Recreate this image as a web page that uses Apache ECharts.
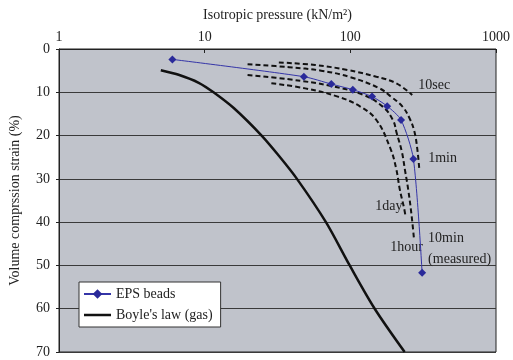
<!DOCTYPE html>
<html>
<head>
<meta charset="utf-8">
<script src="https://cdn.jsdelivr.net/npm/echarts@6/dist/echarts.min.js"></script>
<style>
  html, body { margin: 0; padding: 0; background: #fff; }
  #chart { width: 513px; height: 360px; }
</style>
</head>
<body>
<div id="chart"></div>
<script>
// Axis ticks
const pressureTicks = [1, 10, 100, 1000];
const strainTicks = [0, 10, 20, 30, 40, 50, 60, 70];

// Measured curve for EPS beads (10 min loading): [pressure kN/m2, strain %]
const epsBeads = [[6, 2.4], [48, 6.4], [74, 8.1], [104, 9.4], [141, 11], [179, 13.2], [223, 16.4], [271, 25.4], [311, 51.7]];

// Boyle's law for a gas
const boyleLaw = [[5, 4.9], [6.7, 6.0], [9.1, 7.8], [11.5, 10], [15.9, 13.7], [24.6, 20], [32, 24.5], [43, 30], [68, 40], [99, 50], [147, 60], [236, 70]];

// Curves for other loading durations
const curve10sec = [[32.3, 3.1], [57.3, 3.7], [95.5, 4.85], [151, 6.4], [206, 7.9], [266, 10.6]];
const curve1min = [[19.7, 3.5], [38, 4.2], [63, 5.0], [100, 6.5], [159, 9.1], [190, 11], [228, 13.3], [255, 16], [275, 19], [288, 23], [297, 27.5]];
const curve1hour = [[19.7, 6.0], [38, 7.0], [74, 8.55], [123, 10.6], [168, 13.4], [196, 16.4], [208, 19.4], [226, 23.8], [237, 27.9], [250, 32.6], [263, 38.3], [273, 43.6]];
const curve1day = [[28.7, 7.9], [49, 9.1], [82, 11], [117, 13.3], [151, 16.4], [188, 22.9], [206, 27.5], [219, 32.6], [233, 36.5], [239, 38.5]];

const serif = "'Liberation Serif', 'Times New Roman', serif";
const textColor = '#222';
const fontSize = 14;

// Plain line swatch for the legend (thin bar inside a 27x12 box)
const lineSwatch = 'path://M0,0 L27,0 L27,0.01 L0,0.01 Z M0,4.75 L27,4.75 L27,7.25 L0,7.25 Z M0,12 L27,12 L27,12.01 L0,12.01 Z';

function dashed(name, data, label) {
  return {
    name: name,
    type: 'line',
    data: data,
    smooth: 0.4,
    showSymbol: false,
    symbol: 'none',
    lineStyle: { color: '#111', width: 2, type: [5, 3] },
    endLabel: Object.assign({
      show: true,
      formatter: name,
      fontFamily: serif,
      fontSize: fontSize,
      color: textColor
    }, label),
    z: 3
  };
}

const chart = echarts.init(document.getElementById('chart'), null, { renderer: 'canvas' });
chart.setOption({
  animation: false,
  backgroundColor: '#fff',
  textStyle: { fontFamily: serif },
  grid: {
    left: 53, right: 11, top: 49, bottom: 8,
    show: true,
    backgroundColor: '#c0c3cb',
    borderColor: '#222',
    borderWidth: 1
  },
  legend: {
    data: [
      { name: 'EPS beads' },
      { name: "Boyle's law (gas)", icon: lineSwatch }
    ],
    orient: 'vertical',
    left: 79, top: 282,
    backgroundColor: '#fff',
    borderColor: '#333',
    borderWidth: 1,
    borderRadius: 0,
    padding: [5, 8, 5, 4],
    itemWidth: 27,
    itemHeight: 12,
    itemGap: 7,
    textStyle: { fontFamily: serif, fontSize: fontSize, color: textColor }
  },
  xAxis: {
    type: 'log',
    logBase: 10,
    min: pressureTicks[0],
    max: pressureTicks[pressureTicks.length - 1],
    position: 'top',
    name: 'Isotropic pressure (kN/m²)',
    nameLocation: 'middle',
    nameGap: 27,
    nameTextStyle: { fontFamily: serif, fontSize: fontSize, color: textColor },
    axisLine: { show: true, lineStyle: { color: '#222' } },
    axisTick: { show: true, inside: true, length: 4, lineStyle: { color: '#222' } },
    axisLabel: {
      fontFamily: serif, fontSize: fontSize, color: textColor, margin: 5,
      formatter: function (v) { return String(Math.round(v)); }
    },
    splitLine: { show: false },
    minorTick: { show: false }
  },
  yAxis: {
    type: 'value',
    inverse: true,
    min: strainTicks[0],
    max: strainTicks[strainTicks.length - 1],
    interval: 10,
    name: 'Volume comprssion strain (%)',
    nameLocation: 'middle',
    nameGap: 37,
    nameTextStyle: { fontFamily: serif, fontSize: fontSize, color: textColor },
    axisLine: { show: true, lineStyle: { color: '#222' } },
    axisTick: { show: true, length: 3, lineStyle: { color: '#222' } },
    axisLabel: { fontFamily: serif, fontSize: fontSize, color: textColor, margin: 9 },
    splitLine: { show: true, lineStyle: { color: '#3a3a3a', width: 1 } }
  },
  series: [
    dashed('10sec', curve10sec, { offset: [-2, -10] }),
    dashed('1min', curve1min, { offset: [1, -10] }),
    dashed('1hour', curve1hour, { align: 'right', offset: [1, 10] }),
    dashed('1day', curve1day, { align: 'right', offset: [-11, -9] }),
    {
      name: "Boyle's law (gas)",
      type: 'line',
      data: boyleLaw,
      smooth: 0.3,
      showSymbol: false,
      symbol: 'none',
      lineStyle: { color: '#111', width: 2.5 },
      itemStyle: { color: '#111' },
      z: 4
    },
    {
      name: 'EPS beads',
      type: 'line',
      data: epsBeads,
      smooth: 0.25,
      symbol: 'diamond',
      symbolSize: 8,
      lineStyle: { color: '#3535a8', width: 1 },
      itemStyle: { color: '#2a2a9a' },
      endLabel: {
        show: true,
        formatter: '10min\n(measured)',
        fontFamily: serif,
        fontSize: fontSize,
        lineHeight: 21,
        color: textColor,
        offset: [-2, -24]
      },
      z: 5
    }
  ]
});
</script>
</body>
</html>
